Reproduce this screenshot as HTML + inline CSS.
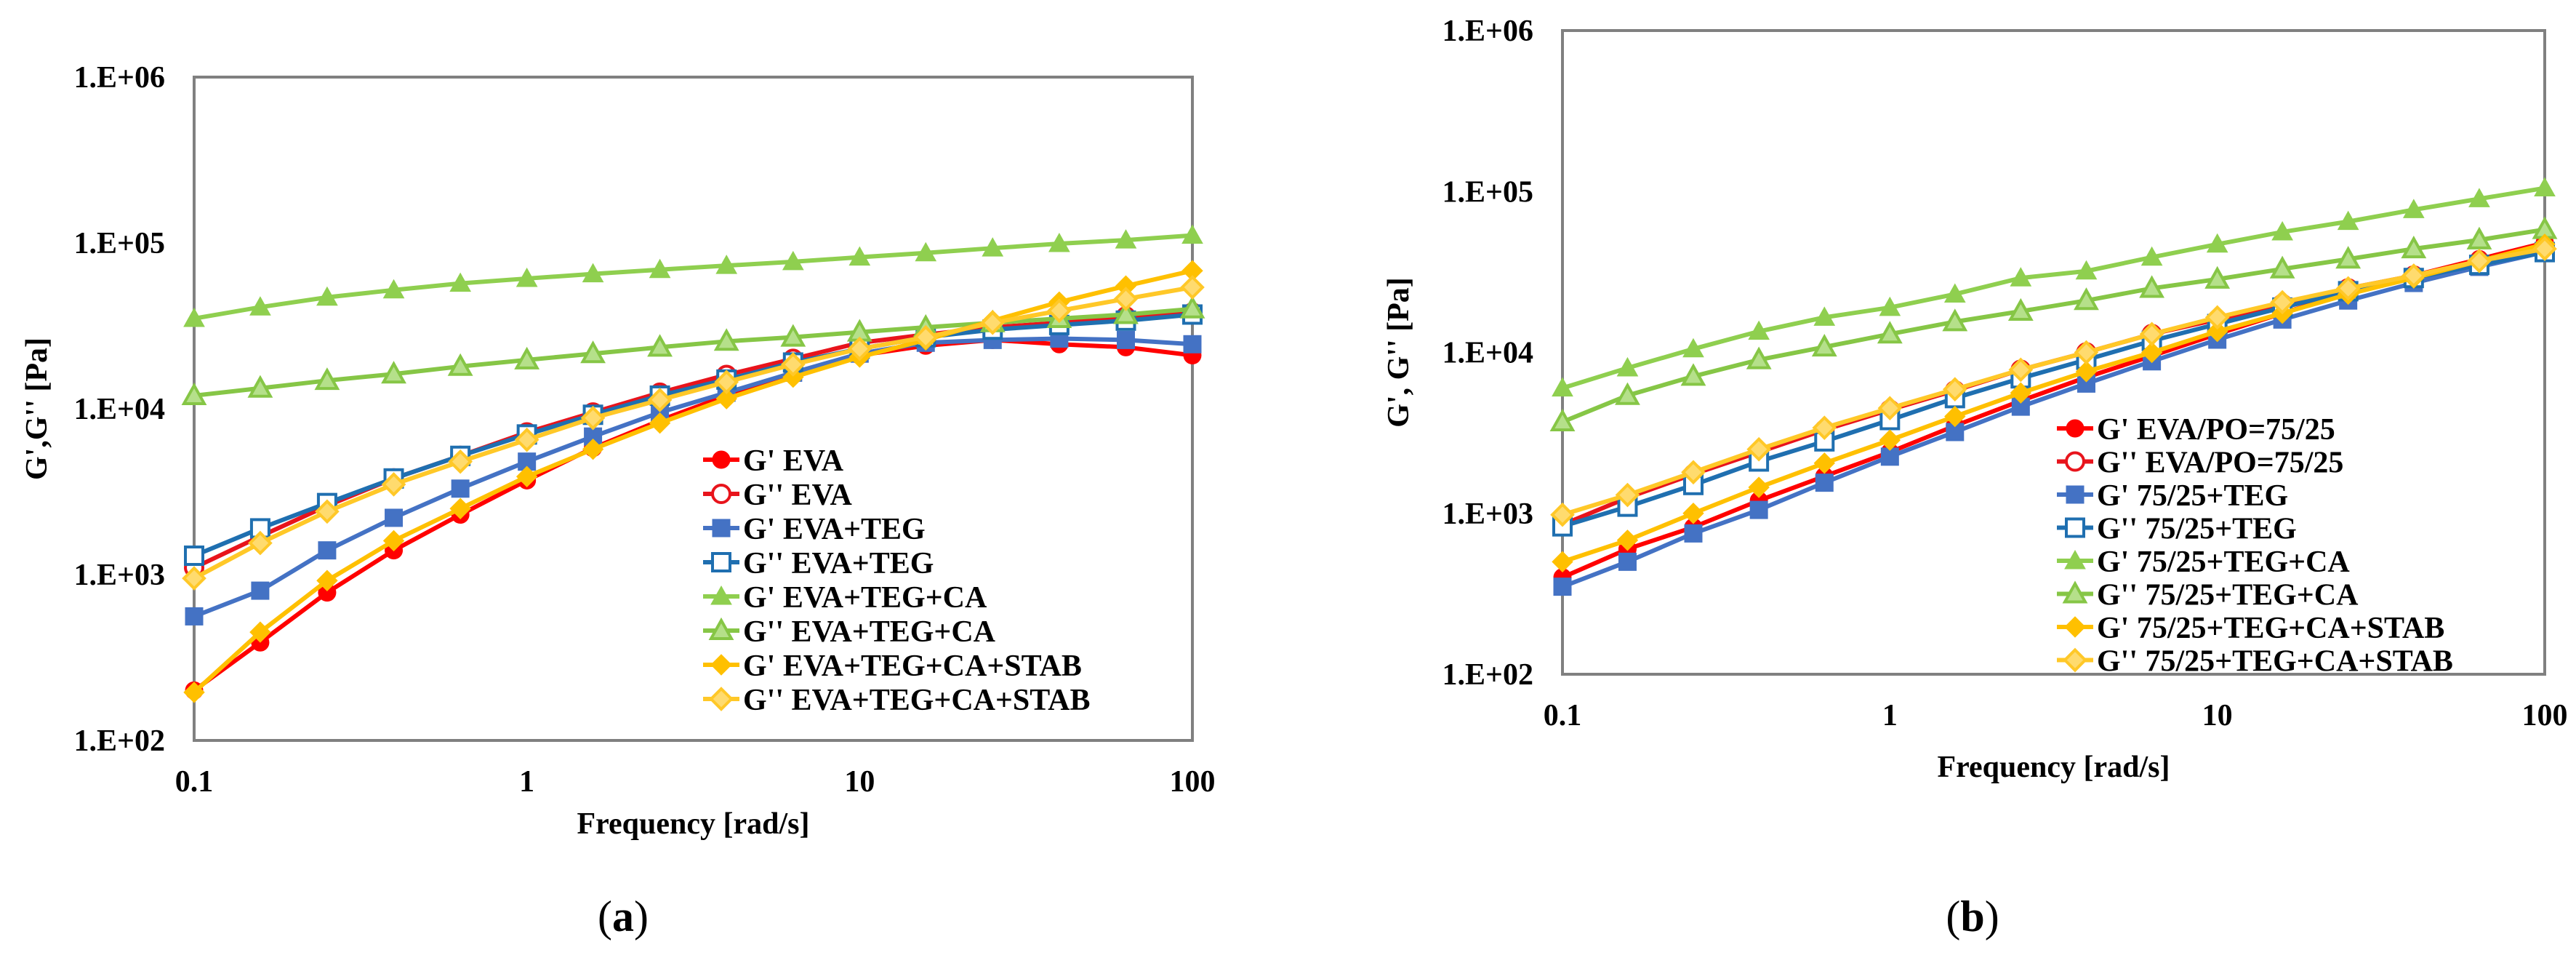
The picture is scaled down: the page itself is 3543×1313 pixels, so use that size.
<!DOCTYPE html>
<html><head><meta charset="utf-8">
<style>
html,body{margin:0;padding:0;background:#fff;}
svg{display:block;font-family:"Liberation Serif",serif;}
</style></head>
<body>
<svg id="fig" width="3543" height="1313" viewBox="0 0 3543 1313" xmlns="http://www.w3.org/2000/svg"></svg>
<script>
const freqs = [0.1,0.158,0.251,0.398,0.631,1,1.58,2.51,3.98,6.31,10,15.8,25.1,39.8,63.1,100];
const yTickLabels = ["1.E+02","1.E+03","1.E+04","1.E+05","1.E+06"];
const xTickLabels = ["0.1","1","10","100"];
// chart (a)
const aNames = ["G' EVA","G'' EVA","G' EVA+TEG","G'' EVA+TEG","G' EVA+TEG+CA","G'' EVA+TEG+CA","G' EVA+TEG+CA+STAB","G'' EVA+TEG+CA+STAB"];
const aGpEVA = [200,390,780,1400,2300,3700,5800,8500,12000,16000,21000,24000,26000,24500,23500,21000];
const aGppEVA = [1100,1700,2600,3800,5200,7200,9500,12500,16000,20000,25000,28000,31000,33000,36000,38000];
const aGpTEG = [560,800,1400,2200,3300,4800,6800,9500,12500,16500,21500,25000,26000,26500,26000,24500];
const aGppTEG = [1300,1900,2700,3800,5200,7000,9200,12000,15000,19000,23000,27000,30000,32000,34000,37000];
const aGpCA = [35000,41000,47000,52000,57000,61000,65000,69000,73000,77000,82000,87000,93000,99000,104000,111000];
const aGppCA = [12000,13300,14800,16200,18000,19700,21500,23500,25500,27000,29000,31000,33000,35000,37000,40000];
const aGpSTAB = [195,450,920,1600,2500,3900,5700,8200,11500,15500,20500,26000,34000,44000,55000,68000];
const aGppSTAB = [950,1550,2400,3500,4800,6500,8800,11300,14500,18500,23000,27000,33000,39000,46000,54000];
// chart (b)
const bNames = ["G' EVA/PO=75/25","G'' EVA/PO=75/25","G' 75/25+TEG","G'' 75/25+TEG","G' 75/25+TEG+CA","G'' 75/25+TEG+CA","G' 75/25+TEG+CA+STAB","G'' 75/25+TEG+CA+STAB"];
const bGpEVA = [400,600,820,1200,1700,2400,3500,5000,7000,9500,13000,17500,23500,30000,38000,48000];
const bGppEVA = [850,1250,1750,2400,3300,4400,5800,7800,10000,13000,16000,20000,25000,30000,37000,45000];
const bGpTEG = [350,500,750,1050,1550,2250,3200,4600,6400,8800,12000,16000,21000,27000,34000,42000];
const bGppTEG = [830,1100,1500,2100,2800,3800,5200,6900,9000,11800,15000,19000,24000,29000,35000,42000];
const bGpCA = [6000,8000,10500,13500,16500,19000,23000,29000,32000,39000,47000,56000,65000,77000,90000,105000];
const bGppCA = [3700,5400,7100,9000,10800,13000,15500,18000,21000,25000,28500,33000,38000,44000,50000,58000];
const bGpSTAB = [500,680,1000,1450,2050,2850,4000,5600,7600,10000,13500,17500,23000,29000,37000,47000];
const bGppSTAB = [980,1300,1800,2500,3400,4500,5900,7800,10000,13000,16500,20500,25000,30000,37000,44000];

const styles = [
 {c:"#ff0000",m:"circle",fill:"#ff0000"},
 {c:"#e8141c",m:"circle",fill:"#fff"},
 {c:"#4472c4",m:"square",fill:"#4472c4"},
 {c:"#1f6fb0",m:"square",fill:"#fff"},
 {c:"#8fcf4f",m:"tri",fill:"#8fcf4f"},
 {c:"#86c646",m:"tri",fill:"#b5e08a"},
 {c:"#ffc000",m:"diamond",fill:"#ffc000"},
 {c:"#ffc828",m:"diamond",fill:"#ffdb6e"}
];
const NS="http://www.w3.org/2000/svg";
const svg=document.getElementById('fig');
function el(tag,attrs,parent){const e=document.createElementNS(NS,tag);for(const k in attrs)e.setAttribute(k,attrs[k]);(parent||svg).appendChild(e);return e;}

function marker(g,type,x,y,col,fill){
  const sw=fill===col?1:4;
  let e;
  if(type==="circle") e=el('circle',{cx:x,cy:y,r:12,fill:fill,stroke:col,'stroke-width':sw},g);
  else if(type==="square") e=el('rect',{x:x-12,y:y-12,width:24,height:24,fill:fill,stroke:col,'stroke-width':sw},g);
  else if(type==="tri") e=el('polygon',{points:`${x},${y-14} ${x+14},${y+11} ${x-14},${y+11}`,fill:fill,stroke:col,'stroke-width':sw},g);
  else e=el('polygon',{points:`${x},${y-14} ${x+14},${y} ${x},${y+14} ${x-14},${y}`,fill:fill,stroke:col,'stroke-width':sw},g);
  return e;
}

function chart(cfg){
  const {L,R,T,B,names,series,id} = cfg;
  const g=el('g',{});
  
  
  const xs=v=>L+(Math.log10(v)+1)/3*(R-L);
  const ys=v=>B-(Math.log10(v)-2)/4*(B-T);
  const frame=el('rect',{x:L,y:T,width:R-L,height:B-T,fill:"none",stroke:"#808080",'stroke-width':4},g);
  
  
  yTickLabels.forEach((t,i)=>{
    const y=B-i*(B-T)/4;
    const tx=el('text',{x:L-40,y:y+14,'text-anchor':'end','font-size':42,'font-weight':'bold'},g);
    tx.textContent=t;
    
    
  });
  xTickLabels.forEach((t,i)=>{
    const x=L+i*(R-L)/3;
    const tx=el('text',{x:x,y:B+70,'text-anchor':'middle','font-size':42,'font-weight':'bold'},g);
    tx.textContent=t;
    
    
  });
  const xt=el('text',{x:(L+R)/2,y:cfg.xtY,'text-anchor':'middle','font-size':42,'font-weight':'bold'},g);
  xt.textContent="Frequency [rad/s]";
  
  
  const yt=el('text',{x:0,y:0,'text-anchor':'middle','font-size':42,'font-weight':'bold',transform:`translate(${cfg.ytX},${(T+B)/2}) rotate(-90)`},g);
  yt.textContent=cfg.ytitle;
  
  
  series.forEach((vals,si)=>{
    const st=styles[si];
    const sg=el('g',{},g);
    
    
    const pts=vals.map((v,i)=>xs(freqs[i])+","+ys(v)).join(" ");
    el('polyline',{points:pts,fill:"none",stroke:st.c,'stroke-width':6},sg);
    vals.forEach((v,i)=>{
      const m=marker(sg,st.m,xs(freqs[i]),ys(v),st.c,st.fill);
      
      
    });
  });
  const lg=el('g',{},g);
  
  
  names.forEach((n,i)=>{
    const y=cfg.legY+i*cfg.legDy, x=cfg.legX;
    const st=styles[i];
    const eg=el('g',{},lg);
    
    
    el('line',{x1:x-55,y1:y,x2:x-5,y2:y,stroke:st.c,'stroke-width':6},eg);
    marker(eg,st.m,x-30,y,st.c,st.fill);
    const t=el('text',{x:x,y:y+15,'font-size':42,'font-weight':'bold'},eg);
    t.textContent=n;
  });
  const cap=el('text',{x:cfg.capX,y:1280,'text-anchor':'middle','font-size':60},g);
  
  
  cap.innerHTML='(<tspan font-weight="bold">'+cfg.cap+'</tspan>)';
}

chart({id:'chart-a',L:267,R:1640,T:106,B:1018,names:aNames,
  series:[aGpEVA,aGppEVA,aGpTEG,aGppTEG,aGpCA,aGppCA,aGpSTAB,aGppSTAB],
  xtY:1146,ytX:64,ytitle:"G',G'' [Pa]",legX:1022,legY:632,legDy:47,capX:857,cap:"a"});
chart({id:'chart-b',L:2149,R:3500,T:42,B:927,names:bNames,
  series:[bGpEVA,bGppEVA,bGpTEG,bGppTEG,bGpCA,bGppCA,bGpSTAB,bGppSTAB],
  xtY:1068,ytX:1937,ytitle:"G', G'' [Pa]",legX:2884,legY:589,legDy:45.5,capX:2713,cap:"b"});
</script>
</body></html>
